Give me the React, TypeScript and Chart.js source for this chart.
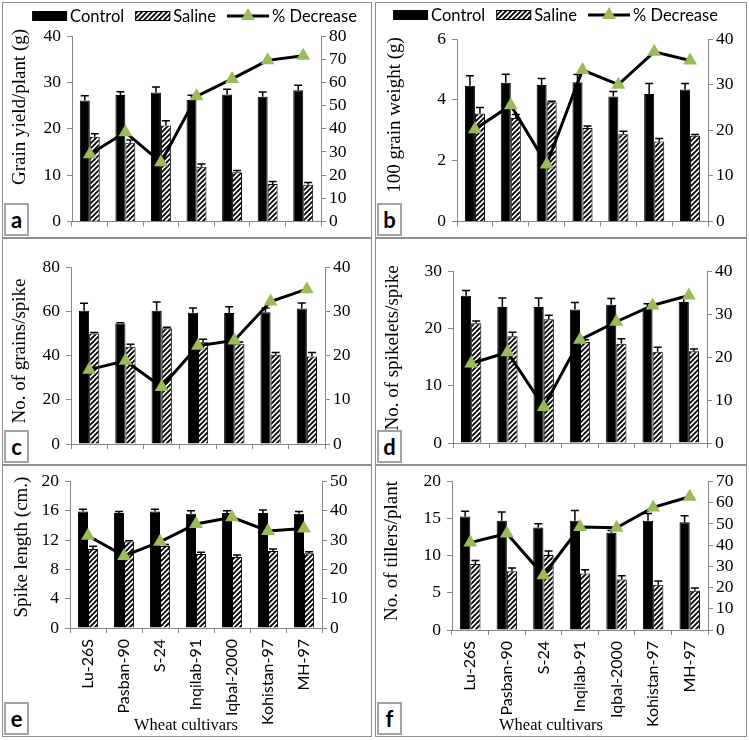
import React, { useEffect, useRef } from "react";
import { Chart, registerables } from "chart.js";

Chart.register(...registerables);

// ---- data ----
const cultivars = ["Lu-26S", "Pasban-90", "S-24", "Inqilab-91", "Iqbal-2000", "Kohistan-97", "MH-97"];
const seriesNames = ["Control", "Saline", "% Decrease"];

// a: grain yield per plant (g)
const yieldControl = [26.1, 27.3, 27.8, 26.2, 27.4, 26.9, 28.3];
const yieldControlErr = [1.0, 0.7, 1.2, 1.0, 1.1, 1.0, 1.1];
const yieldSaline = [18.3, 17.0, 20.7, 11.8, 10.6, 8.1, 7.9];
const yieldSalineErr = [0.6, 0.6, 1.0, 0.6, 0.4, 0.5, 0.5];
const yieldDecrease = [29, 38.5, 25.5, 54, 61.5, 69.5, 71.5];

// b: 100 grain weight (g)
const weightControl = [4.46, 4.56, 4.49, 4.58, 4.11, 4.19, 4.34];
const weightControlErr = [0.33, 0.28, 0.21, 0.25, 0.16, 0.35, 0.2];
const weightSaline = [3.55, 3.4, 3.92, 3.07, 2.87, 2.63, 2.82];
const weightSalineErr = [0.2, 0.12, 0.03, 0.07, 0.1, 0.1, 0.04];
const weightDecrease = [20.2, 25.5, 12.5, 33.2, 30, 37.2, 35.3];

// c: grains per spike
const grainsControl = [60.2, 54.5, 60.2, 59.3, 59.2, 59.5, 61.2];
const grainsControlErr = [3.4, 0.3, 4, 2.2, 2.8, 2, 2.5];
const grainsSaline = [50.0, 43.9, 52.3, 46.0, 45.3, 40.3, 39.6];
const grainsSalineErr = [0.4, 1.2, 0.5, 1.3, 0.8, 1.0, 1.8];
const grainsDecrease = [16.8, 18.8, 12.9, 22.2, 23.4, 32.2, 35];

// d: spikelets per spike
const spikeletsControl = [25.7, 23.7, 23.7, 23.3, 24.1, 23.6, 24.6];
const spikeletsControlErr = [0.9, 1.6, 1.6, 1.2, 1.1, 0.7, 0.8];
const spikeletsSaline = [20.9, 18.6, 21.6, 17.6, 17.3, 15.9, 16.0];
const spikeletsSalineErr = [0.4, 0.7, 0.7, 0.4, 0.9, 0.8, 0.4];
const spikeletsDecrease = [18.5, 21.1, 8.4, 24.0, 28.2, 32.0, 34.3];

// e: spike length (cm)
const lengthControl = [15.9, 15.7, 15.9, 15.6, 15.7, 15.7, 15.6];
const lengthControlErr = [0.3, 0.2, 0.3, 0.4, 0.3, 0.4, 0.3];
const lengthSaline = [10.8, 11.8, 11.2, 10.1, 9.7, 10.5, 10.2];
const lengthSalineErr = [0.35, 0.1, 0.2, 0.25, 0.25, 0.3, 0.2];
const lengthDecrease = [31.5, 24.6, 29.4, 35.5, 37.8, 33.1, 34.0];

// f: tillers per plant
const tillersControl = [15.3, 14.7, 13.8, 14.7, 13.1, 14.7, 14.5];
const tillersControlErr = [0.7, 1.2, 0.5, 1.4, 0.3, 1.0, 0.9];
const tillersSaline = [8.9, 7.9, 10.1, 7.6, 6.8, 6.1, 5.3];
const tillersSalineErr = [0.45, 0.45, 0.55, 0.5, 0.5, 0.5, 0.35];
const tillersDecrease = [41.2, 45.5, 25.8, 48.5, 48.2, 57.8, 62.8];

const xTitle = "Wheat cultivars";

const SERIF = "'Liberation Serif', 'Times New Roman', serif";
const SANS = "Lato, 'Open Sans', sans-serif";
const GREEN = "#9bbb59";
const AXIS = "#868686";

// frame = [x, y, w, h], area = [left, top, right, bottom] (page px)
const panels = [
  { letter: "a", frame: [2, 2, 370, 236], area: [72, 36, 321, 229], yTitle: "Grain yield/plant (g)", titlePos: [20, 107],
    yMax: 40, yStep: 10, y1Max: 80, legend: [194.5, 16], xLabels: null,
    control: yieldControl, controlErr: yieldControlErr, saline: yieldSaline, salineErr: yieldSalineErr, decrease: yieldDecrease },
  { letter: "b", frame: [375, 2, 372, 236], area: [457, 39, 708, 231], yTitle: "100 grain weight (g)", titlePos: [395, 115],
    yMax: 6, yStep: 2, y1Max: 40, legend: [555.5, 15], xLabels: null,
    control: weightControl, controlErr: weightControlErr, saline: weightSaline, salineErr: weightSalineErr, decrease: weightDecrease },
  { letter: "c", frame: [2, 238, 370, 227], area: [71, 267, 325, 444], yTitle: "No. of grains/spike", titlePos: [20, 351],
    yMax: 80, yStep: 20, y1Max: 40, legend: null, xLabels: null,
    control: grainsControl, controlErr: grainsControlErr, saline: grainsSaline, salineErr: grainsSalineErr, decrease: grainsDecrease },
  { letter: "d", frame: [375, 238, 372, 227], area: [453, 271, 707, 443], yTitle: "No. of spikelets/spike", titlePos: [393, 348],
    yMax: 30, yStep: 10, y1Max: 40, legend: null, xLabels: null,
    control: spikeletsControl, controlErr: spikeletsControlErr, saline: spikeletsSaline, salineErr: spikeletsSalineErr, decrease: spikeletsDecrease },
  { letter: "e", frame: [2, 465, 370, 272], area: [70, 473, 322, 628], yTitle: "Spike length (cm.)", titlePos: [22, 547],
    yMax: 20, yStep: 4, y1Max: 50, legend: null, xLabels: [186, 726],
    control: lengthControl, controlErr: lengthControlErr, saline: lengthSaline, salineErr: lengthSalineErr, decrease: lengthDecrease },
  { letter: "f", frame: [375, 465, 372, 272], area: [452, 474, 708, 630], yTitle: "No. of tillers/plant", titlePos: [392, 551],
    yMax: 20, yStep: 5, y1Max: 70, legend: null, xLabels: [551, 726],
    control: tillersControl, controlErr: tillersControlErr, saline: tillersSaline, salineErr: tillersSalineErr, decrease: tillersDecrease },
];

function makeHatch(ctx: CanvasRenderingContext2D) {
  const n = 5;
  const c = document.createElement("canvas");
  c.width = n;
  c.height = n;
  const g = c.getContext("2d") as CanvasRenderingContext2D;
  g.fillStyle = "#fff";
  g.fillRect(0, 0, n, n);
  g.strokeStyle = "#000";
  g.lineWidth = 1.9;
  g.beginPath();
  g.moveTo(-1, n + 1); g.lineTo(n + 1, -1);
  g.moveTo(-1, 1); g.lineTo(1, -1);
  g.moveTo(n - 1, n + 1); g.lineTo(n + 1, n - 1);
  g.stroke();
  return ctx.createPattern(c, "repeat") as CanvasPattern;
}

// one-sided error bars, drawn right after each bar dataset
const errorBars = {
  id: "errorBars",
  afterDatasetDraw(chart: any, args: any) {
    const ds = chart.data.datasets[args.index];
    if (!ds.errors) return;
    const meta = args.meta;
    const y = meta.yScale;
    const ctx = chart.ctx;
    ctx.save();
    ctx.strokeStyle = "#000";
    ctx.lineWidth = 1.5;
    meta.data.forEach((bar: any, i: number) => {
      const base = y.getPixelForValue(ds.data[i]);
      const top = y.getPixelForValue(ds.data[i] + ds.errors[i]);
      ctx.beginPath();
      ctx.moveTo(bar.x, base);
      ctx.lineTo(bar.x, top);
      ctx.moveTo(bar.x - 4, top);
      ctx.lineTo(bar.x + 4, top);
      ctx.stroke();
    });
    ctx.restore();
  },
};

// axis titles and the legend, placed where the original figure has them
const panelText = {
  id: "panelText",
  afterDraw(chart: any, _args: any, opts: any) {
    const ctx = chart.ctx;
    ctx.save();
    ctx.font = `19px ${SERIF}`;
    ctx.fillStyle = "#000";
    ctx.textAlign = "center";
    ctx.textBaseline = "middle";
    ctx.translate(opts.titleX, opts.titleY);
    ctx.rotate(-Math.PI / 2);
    ctx.fillText(opts.title, 0, 0);
    ctx.restore();

    if (opts.xTitle) {
      ctx.save();
      ctx.font = `16.5px ${SERIF}`;
      ctx.fillStyle = "#000";
      ctx.textAlign = "center";
      ctx.textBaseline = "middle";
      ctx.fillText(xTitle, opts.xTitle[0], opts.xTitle[1]);
      ctx.restore();
    }

    if (!opts.legend) return;
    ctx.save();
    ctx.font = `16.5px ${SANS}`;
    ctx.textBaseline = "middle";
    ctx.textAlign = "left";
    const boxW = 35, boxH = 10, lineW = 42, gapT = 3, gapI = 11;
    const marks = [boxW, boxW, lineW];
    const widths = seriesNames.map((n, i) => marks[i] + gapT + ctx.measureText(n).width);
    const total = widths.reduce((s, w) => s + w, 0) + gapI * 2;
    let x = opts.legendX - total / 2;
    const y = opts.legendY;
    seriesNames.forEach((name, i) => {
      if (i === 0) {
        ctx.fillStyle = "#000";
        ctx.fillRect(x, y - boxH / 2, boxW, boxH);
      } else if (i === 1) {
        ctx.fillStyle = opts.hatch;
        ctx.fillRect(x, y - boxH / 2, boxW, boxH);
        ctx.strokeStyle = "#000";
        ctx.lineWidth = 1;
        ctx.strokeRect(x + 0.5, y - boxH / 2 + 0.5, boxW - 1, boxH - 1);
      } else {
        ctx.strokeStyle = "#000";
        ctx.lineWidth = 3;
        ctx.beginPath();
        ctx.moveTo(x, y);
        ctx.lineTo(x + lineW, y);
        ctx.stroke();
        const r = 8, cx = x + lineW / 2;
        ctx.fillStyle = GREEN;
        ctx.beginPath();
        ctx.moveTo(cx, y - r);
        ctx.lineTo(cx + r * 0.866, y + r / 2);
        ctx.lineTo(cx - r * 0.866, y + r / 2);
        ctx.closePath();
        ctx.fill();
      }
      ctx.fillStyle = "#000";
      ctx.fillText(name, x + marks[i] + gapT, y + 1);
      x += widths[i] + gapI;
    });
    ctx.restore();
  },
};

const Panel = ({ p }: { p: any }) => {
  const ref = useRef<HTMLCanvasElement>(null);
  const [fx, fy, fw, fh] = p.frame;
  const [l, t, r, b] = p.area;

  useEffect(() => {
    const canvas = ref.current as HTMLCanvasElement;
    const ctx = canvas.getContext("2d") as CanvasRenderingContext2D;
    const hatch = makeHatch(ctx);
    const tickFont = { family: SERIF, size: 17.5 };

    const chart = new Chart(ctx, {
      type: "bar",
      data: {
        labels: cultivars,
        datasets: [
          {
            type: "bar", label: seriesNames[0], data: p.control, errors: p.controlErr, yAxisID: "y", order: 1,
            backgroundColor: "#000", borderColor: "#000", borderWidth: 1, categoryPercentage: 0.56, barPercentage: 1,
          },
          {
            type: "bar", label: seriesNames[1], data: p.saline, errors: p.salineErr, yAxisID: "y", order: 2,
            backgroundColor: hatch, borderColor: "#000", borderWidth: 1, categoryPercentage: 0.56, barPercentage: 1,
          },
          {
            type: "line", label: seriesNames[2], data: p.decrease, yAxisID: "y1", order: 0,
            borderColor: "#000", borderWidth: 3, tension: 0, pointStyle: "triangle", pointRadius: 8,
            pointBackgroundColor: GREEN, pointBorderColor: GREEN, pointBorderWidth: 0,
          },
        ] as any,
      },
      options: {
        animation: false,
        responsive: false,
        layout: { padding: { top: t - fy, left: 0, right: 0, bottom: 0 } },
        plugins: {
          legend: { display: false },
          tooltip: { enabled: false },
          panelText: {
            title: p.yTitle, titleX: p.titlePos[0] - fx, titleY: p.titlePos[1] - fy,
            xTitle: p.xLabels ? [p.xLabels[0] - fx, p.xLabels[1] - fy] : null,
            legend: !!p.legend, legendX: p.legend ? p.legend[0] - fx : 0, legendY: p.legend ? p.legend[1] - fy : 0,
            hatch,
          },
        } as any,
        scales: {
          x: {
            offset: true,
            grid: { offset: true, drawOnChartArea: false, tickLength: 5, color: AXIS },
            border: { color: AXIS, width: 1 },
            ticks: {
              display: !!p.xLabels, autoSkip: false, minRotation: 90, maxRotation: 90, padding: 6,
              color: "#000", font: { family: SANS, size: 16 },
            },
            afterFit: (s: any) => { s.height = fy + fh - b; },
          },
          y: {
            position: "left", min: 0, max: p.yMax,
            ticks: { stepSize: p.yStep, autoSkip: false, color: "#000", font: tickFont, padding: 6 },
            grid: { drawOnChartArea: false, tickLength: 5, color: AXIS },
            border: { color: AXIS, width: 1 },
            afterFit: (s: any) => { s.width = l - fx; },
          },
          y1: {
            position: "right", min: 0, max: p.y1Max,
            ticks: { stepSize: 10, autoSkip: false, color: "#000", font: tickFont, padding: 3 },
            grid: { drawOnChartArea: false, tickLength: 5, color: AXIS },
            border: { color: AXIS, width: 1 },
            afterFit: (s: any) => { s.width = fx + fw - r; },
          },
        } as any,
      },
      plugins: [errorBars, panelText],
    });

    return () => { chart.destroy(); };
    // eslint-disable-next-line
  }, []);

  return (
    <>
      <canvas ref={ref} width={fw} height={fh}
        style={{ position: "absolute", left: fx, top: fy, width: fw, height: fh }} />
      <div style={{
        position: "absolute", left: fx, top: fy, width: fw, height: fh, boxSizing: "border-box",
        border: "1.5px solid #8f8f8f", pointerEvents: "none",
      }} />
      <div style={{
        position: "absolute", left: fx + 2, top: fy + fh - 35, width: 25, height: 33, boxSizing: "border-box",
        border: "2px solid #a3a3a3", background: "#fff", display: "flex", alignItems: "center", justifyContent: "center",
        fontFamily: SANS, fontWeight: 700, fontSize: 22, color: "#000", lineHeight: 1,
      }}>{p.letter}</div>
    </>
  );
};

const App = () => {
  return (
    <div style={{ position: "absolute", left: 0, top: 0, width: 749, height: 740, background: "#fff" }}>
      {panels.map((p) => <Panel key={p.letter} p={p} />)}
    </div>
  );
};

export default App;
